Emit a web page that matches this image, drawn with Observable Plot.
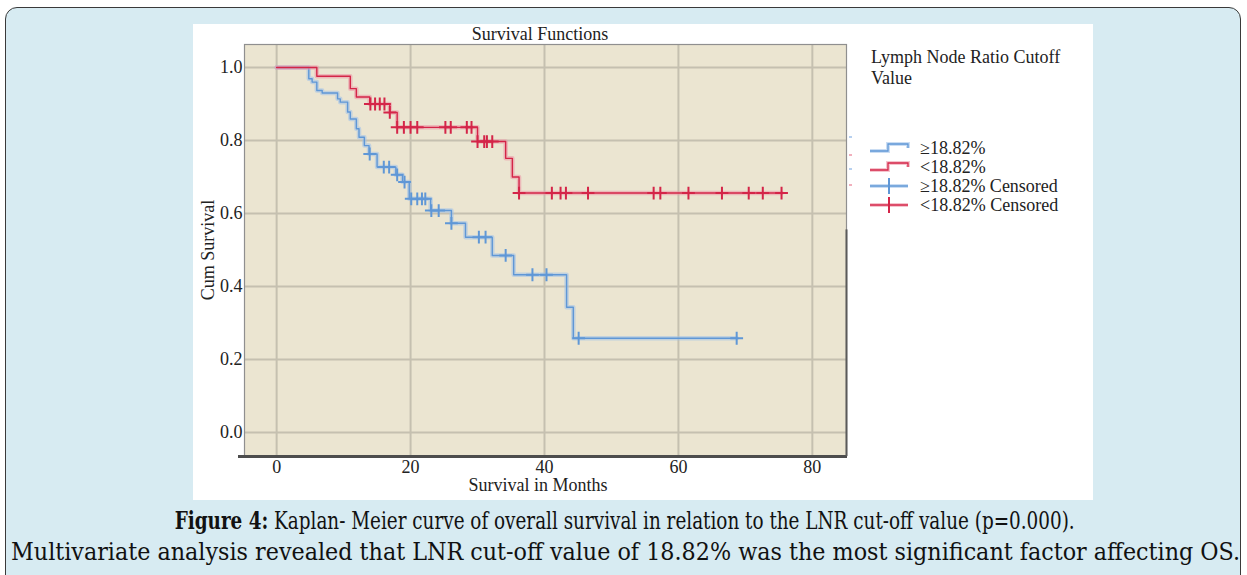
<!DOCTYPE html>
<html><head><meta charset="utf-8">
<script src="https://cdn.jsdelivr.net/npm/d3@7"></script>
<script src="https://cdn.jsdelivr.net/npm/@observablehq/plot@0.6"></script>
<style>
html,body{margin:0;padding:0;background:#fff;width:1247px;height:575px;overflow:hidden;position:relative;}
#page{position:absolute;left:5px;top:7px;width:1234px;height:620px;background:#d7ebf2;border:1.5px solid #3a3a3a;border-radius:12px;}
#fig{position:absolute;left:193px;top:24px;width:900px;height:476px;background:#fff;}
#overlay{position:absolute;left:0;top:0;pointer-events:none;}
.cap{position:absolute;left:0;width:1247px;text-align:center;font-family:"DejaVu Serif Condensed","DejaVu Serif";font-stretch:condensed;color:#111;white-space:nowrap;line-height:1;}
.cap span{display:inline-block;transform-origin:50% 50%;}
</style></head>
<body>
<div id="page"></div>
<div id="fig"></div>
<svg id="overlay" width="1247" height="575"></svg>
<div class="cap" id="cap1"><span><b>Figure 4:</b> Kaplan- Meier curve of overall survival in relation to the LNR cut-off value (p=0.000).</span></div>
<div class="cap" id="cap2"><span>Multivariate analysis revealed that LNR cut-off value of 18.82% was the most significant factor affecting OS.</span></div>
<script>
// ---- data ----
const xTicks = [0, 20, 40, 60, 80];
const yTicks = [0, 0.2, 0.4, 0.6, 0.8, 1.0];
const groupNames = ["≥18.82%", "<18.82%"];
// ≥18.82% group: step times and survival after each step
const blueTimes = [0, 4.8, 5.3, 6.0, 6.8, 9.1, 9.5, 10.6, 11.0, 11.9, 12.3, 13.1, 13.8, 15.0, 17.8, 18.8, 19.8, 23.0, 26.1, 28.2, 32.2, 35.4, 43.3, 44.3];
const blueSurv  = [1.0, 0.969, 0.960, 0.937, 0.930, 0.914, 0.905, 0.878, 0.859, 0.832, 0.809, 0.786, 0.763, 0.727, 0.706, 0.686, 0.640, 0.608, 0.573, 0.535, 0.485, 0.432, 0.343, 0.258];
const blueCensor = [13.9, 16.0, 16.8, 18.0, 19.1, 20.1, 21.0, 21.7, 22.2, 23.1, 24.2, 26.1, 30.2, 31.2, 34.2, 38.2, 40.3, 45.1, 68.7];
const blueEnd = 68.7;
// <18.82% group
const redTimes = [0, 6.0, 11.0, 11.9, 13.9, 16.9, 18.0, 30.0, 34.2, 35.2, 36.2];
const redSurv  = [1.0, 0.976, 0.942, 0.919, 0.900, 0.877, 0.836, 0.797, 0.751, 0.700, 0.656];
const redCensor = [14.0, 14.7, 15.4, 16.1, 16.9, 18.0, 19.0, 20.0, 21.0, 25.2, 26.0, 28.4, 29.1, 30.0, 31.0, 31.4, 32.2, 36.2, 41.1, 42.4, 43.2, 46.5, 56.3, 57.3, 61.5, 66.5, 70.5, 72.6, 75.4];
const redEnd = 75.4;

const blueCore = "#5f97d6", blueHalo = "#9fc1ea";
const redCore = "#d42548", redHalo = "#ec95a6";
const serif = "Liberation Serif";
const fsz = 18;

function stepData(times, surv, end, g) {
  const d = times.map((t, i) => ({t, s: surv[i], g}));
  d.push({t: end, s: surv[surv.length - 1], g});
  return d;
}
function survAt(times, surv, t) {
  let s = surv[0];
  for (let i = 0; i < times.length; i++) if (times[i] <= t + 1e-9) s = surv[i];
  return s;
}
const blueLine = stepData(blueTimes, blueSurv, blueEnd, groupNames[0]);
const redLine = stepData(redTimes, redSurv, redEnd, groupNames[1]);
const blueCens = blueCensor.map(t => ({t, s: survAt(blueTimes, blueSurv, t)}));
const redCens = redCensor.map(t => ({t, s: survAt(redTimes, redSurv, t)}));

const chart = Plot.plot({
  width: 900, height: 476,
  marginTop: 20, marginBottom: 44, marginLeft: 51, marginRight: 247,
  x: {domain: [-4.8, 85.1]},
  y: {domain: [-0.066, 1.063]},
  style: {fontFamily: serif, fontSize: fsz + "px", color: "#222", background: "transparent", overflow: "visible"},
  marks: [
    Plot.frame({fill: "#ebe5d1", stroke: "none"}),
    Plot.gridX(xTicks, {stroke: "#c5c0b0", strokeOpacity: 1, strokeWidth: 2}),
    Plot.gridY(yTicks, {stroke: "#c5c0b0", strokeOpacity: 1, strokeWidth: 2}),
    Plot.frame({stroke: "#8f8f8f", strokeWidth: 1.2}),
    Plot.axisX(xTicks, {tickSize: 0, tickPadding: 4, tickFormat: d => String(d), label: null, fontSize: fsz}),
    Plot.axisY(yTicks, {tickSize: 0, tickPadding: 2, tickFormat: d3.format(".1f"), label: null, fontSize: fsz}),
    Plot.line(blueLine, {x: "t", y: "s", curve: "step-after", stroke: blueHalo, strokeWidth: 4.5, strokeOpacity: 0.55}),
    Plot.line(blueLine, {x: "t", y: "s", curve: "step-after", stroke: blueCore, strokeWidth: 1.4}),
    Plot.dot(blueCens, {x: "t", y: "s", symbol: "plus", r: 4.2, stroke: blueCore, strokeWidth: 2}),
    Plot.line(redLine, {x: "t", y: "s", curve: "step-after", stroke: redHalo, strokeWidth: 4.5, strokeOpacity: 0.55}),
    Plot.line(redLine, {x: "t", y: "s", curve: "step-after", stroke: redCore, strokeWidth: 1.4}),
    Plot.dot(redCens, {x: "t", y: "s", symbol: "plus", r: 4.2, stroke: redCore, strokeWidth: 2})
  ]
});
document.getElementById("fig").appendChild(chart);

// frame shadow (bottom & right) using the chart's own scales
const xr = chart.scale("x").range, yr = chart.scale("y").range;
const svgSel = d3.select(chart);
svgSel.append("line").attr("x1", xr[0] - 6).attr("x2", xr[1] + 1).attr("y1", yr[0] + 0.5).attr("y2", yr[0] + 0.5)
  .attr("stroke", "#4d4d4d").attr("stroke-width", 3);
svgSel.append("line").attr("x1", xr[1] + 0.5).attr("x2", xr[1] + 0.5).attr("y1", yr[1] + (yr[0]-yr[1])*0.45).attr("y2", yr[0])
  .attr("stroke", "#5a5a5a").attr("stroke-width", 2);
// small stray marks at the right edge of the frame (as in the source image)
[[0, blueHalo], [1, redHalo], [2, blueHalo], [3, redHalo]].forEach(([i, c]) => {
  const yy = [113, 131, 145, 161][i];
  svgSel.append("line").attr("x1", xr[1] + 3).attr("x2", xr[1] + 6).attr("y1", yy).attr("y2", yy).attr("stroke", c).attr("stroke-width", 1.5);
});

// ---- overlay texts: title, axis labels, legend ----
const ov = d3.select("#overlay");
ov.append("text").attr("x", 540).attr("y", 40).attr("text-anchor", "middle")
  .attr("font-family", serif).attr("font-size", fsz).attr("fill", "#222").text("Survival Functions");
ov.append("text").attr("x", 538).attr("y", 491).attr("text-anchor", "middle")
  .attr("font-family", serif).attr("font-size", fsz).attr("fill", "#222").text("Survival in Months");
ov.append("text").attr("transform", "translate(214,250) rotate(-90)").attr("text-anchor", "middle")
  .attr("font-family", serif).attr("font-size", fsz).attr("fill", "#222").text("Cum Survival");

const legendTitle = ["Lymph Node Ratio Cutoff", "Value"];
legendTitle.forEach((t, i) => ov.append("text").attr("x", 871).attr("y", 63 + i * 21)
  .attr("font-family", serif).attr("font-size", fsz).attr("fill", "#222").text(t));

const legendItems = [
  {label: groupNames[0], core: blueCore, halo: blueHalo, kind: "line"},
  {label: groupNames[1], core: redCore, halo: redHalo, kind: "line"},
  {label: groupNames[0] + " Censored", core: blueCore, halo: blueHalo, kind: "cens"},
  {label: groupNames[1] + " Censored", core: redCore, halo: redHalo, kind: "cens"}
];
const legendY = [148, 167, 186, 205];
legendItems.forEach((it, i) => {
  const y = legendY[i];
  const g = ov.append("g");
  if (it.kind === "line") {
    const p = `M870,${y + 3}H888V${y - 4}H908V${y}`;
    g.append("path").attr("d", p).attr("fill", "none").attr("stroke", it.halo).attr("stroke-width", 4).attr("stroke-opacity", 0.55);
    g.append("path").attr("d", p).attr("fill", "none").attr("stroke", it.core).attr("stroke-width", 1.3);
  } else {
    g.append("line").attr("x1", 870).attr("x2", 908).attr("y1", y).attr("y2", y).attr("stroke", it.halo).attr("stroke-width", 4).attr("stroke-opacity", 0.55);
    g.append("line").attr("x1", 870).attr("x2", 908).attr("y1", y).attr("y2", y).attr("stroke", it.core).attr("stroke-width", 1.3);
    g.append("line").attr("x1", 889).attr("x2", 889).attr("y1", y - 8).attr("y2", y + 8).attr("stroke", it.core).attr("stroke-width", 2);
  }
  g.append("text").attr("x", 920).attr("y", y + 6).attr("font-family", serif).attr("font-size", fsz).attr("fill", "#222").text(it.label);
});

// ---- caption: fit each line to its span in the reference ----
const capFs = 25;
[["cap1", 175, 1075, 522], ["cap2", 11, 1240, 553]].forEach(([id, x0, x1, yc]) => {
  const el = document.getElementById(id);
  el.style.fontSize = capFs + "px";
  const sp = el.querySelector("span");
  const w = sp.getBoundingClientRect().width;
  sp.style.transform = `scaleX(${(x1 - x0) / w})`;
  el.style.left = ((x0 + x1) / 2 - 1247 / 2) + "px";
  el.style.top = (yc - capFs * 0.55) + "px";
});
</script>
</body></html>
